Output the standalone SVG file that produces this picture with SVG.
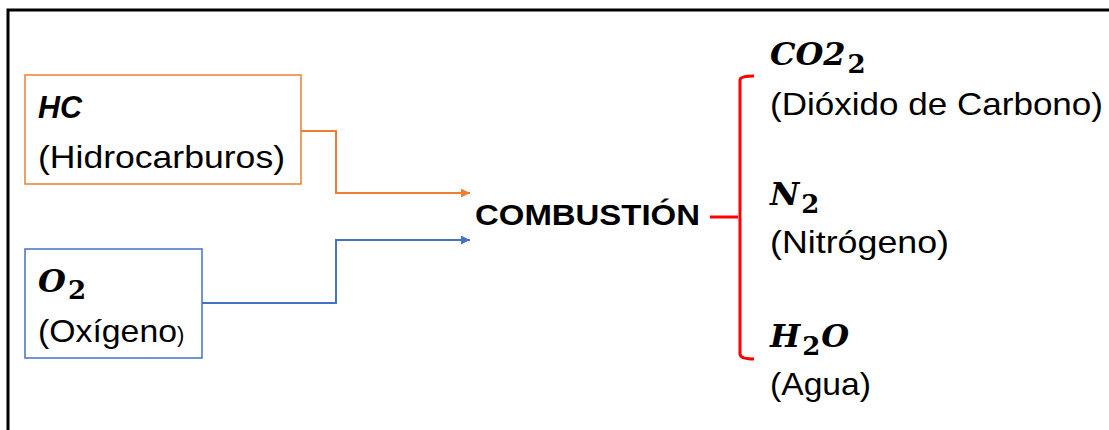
<svg xmlns="http://www.w3.org/2000/svg" width="1109" height="430" viewBox="0 0 1109 430">
<defs>
<style>
.lbl{font-family:"Liberation Sans",Arial,sans-serif;font-size:32px;fill:#000}
.math{font-family:"DejaVu Serif","Liberation Serif",serif;font-weight:bold;font-style:italic;fill:#000;font-size:32px}
.sub{font-style:normal;font-size:26px}
</style>
<marker id="ao" viewBox="0 0 10 10" refX="10" refY="5" markerWidth="10" markerHeight="9" markerUnits="userSpaceOnUse" orient="auto"><path d="M0,0 L10,5 L0,10 z" fill="#ED7D31"/></marker>
<marker id="ab" viewBox="0 0 10 10" refX="10" refY="5" markerWidth="10" markerHeight="9" markerUnits="userSpaceOnUse" orient="auto"><path d="M0,0 L10,5 L0,10 z" fill="#4472C4"/></marker>
</defs>
<rect width="1109" height="430" fill="#fff"/>
<path d="M8,440 L8,10 L1120,10" fill="none" stroke="#000" stroke-width="3"/>
<g id="connectors" fill="none" stroke-width="2">
<path d="M301,131 H336 V193 H470" stroke="#ED7D31" marker-end="url(#ao)"/>
<path d="M202,303 H336 V240 H470" stroke="#4472C4" marker-end="url(#ab)"/>
<path d="M710,217 H738" stroke="#FF0000" stroke-width="3"/>
<path d="M754,76 Q740,76 740,80 V354 Q740,359 754,359" stroke="#FF0000" stroke-width="3"/>
</g>
<g id="node-hc">
<rect x="25" y="75" width="276" height="109" fill="#fff" stroke="#ED7D31" stroke-width="1.5"/>
<text x="38" y="118" font-family="Liberation Sans,Arial,sans-serif" font-size="32" font-weight="bold" font-style="italic" textLength="44" lengthAdjust="spacingAndGlyphs">HC</text>
<text class="lbl" x="38" y="168" textLength="247" lengthAdjust="spacingAndGlyphs">(Hidrocarburos)</text>
</g>
<g id="node-o2">
<rect x="25" y="249" width="177" height="109" fill="#fff" stroke="#4472C4" stroke-width="1.5"/>
<text class="math" x="38" y="292" font-size="30">O<tspan class="sub" dx="2" dy="7" font-size="24">2</tspan></text>
<text class="lbl" x="38" y="342"><tspan textLength="139" lengthAdjust="spacingAndGlyphs">(Oxígeno</tspan><tspan font-size="22">)</tspan></text>
</g>
<g id="node-combustion">
<text x="475" y="225" font-family="Liberation Sans,Arial,sans-serif" font-size="29" font-weight="bold" textLength="225" lengthAdjust="spacingAndGlyphs">COMBUSTIÓN</text>
</g>
<g id="node-co2">
<text class="math" x="770" y="65" font-size="31">CO2<tspan class="sub" dx="2" dy="8">2</tspan></text>
<text class="lbl" x="770" y="115" textLength="333" lengthAdjust="spacingAndGlyphs">(Dióxido de Carbono)</text>
</g>
<g id="node-n2">
<text class="math" x="770" y="205">N<tspan class="sub" dx="2" dy="8">2</tspan></text>
<text class="lbl" x="770" y="253" textLength="179" lengthAdjust="spacingAndGlyphs">(Nitrógeno)</text>
</g>
<g id="node-h2o">
<text class="math" x="770" y="347">H<tspan class="sub" dx="2" dy="8">2</tspan><tspan dx="1" dy="-8">O</tspan></text>
<text class="lbl" x="770" y="395" textLength="101" lengthAdjust="spacingAndGlyphs">(Agua)</text>
</g>
</svg>
